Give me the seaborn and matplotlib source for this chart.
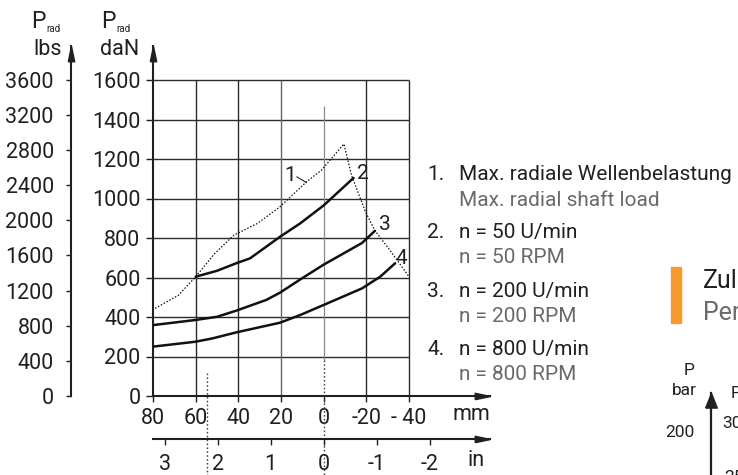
import numpy as np
import pandas as pd
import matplotlib
matplotlib.use("Agg")
import matplotlib.pyplot as plt
import matplotlib.transforms as mtransforms
from matplotlib.patches import Rectangle
import seaborn as sns

# ---------------- data ----------------
mm_ticks = [80, 60, 40, 20, 0, -20, -40]
mm_labels = ["80", "60", "40", "20", "0", "-20", "- 40"]
in_ticks = [3, 2, 1, 0, -1, -2]
in_labels = ["3", "2", "1", "0", "-1", "-2"]
dan_ticks = [0, 200, 400, 600, 800, 1000, 1200, 1400, 1600]
lbs_ticks = [0, 400, 800, 1200, 1600, 2000, 2400, 2800, 3200, 3600]

# 1. max radial shaft load (dotted)
x_max_load = [79, 68, 60, 51, 42, 31, 20.5, 8, 1, -9.5, -13, -19.5, -24, -31, -40]
y_max_load = [444, 511, 604, 722, 815, 874, 958, 1085, 1144, 1276, 1119, 935, 838, 739, 604]
# 2. n = 50 rpm
x_n50 = [60, 50, 41, 34.5, 20.5, 11, 0, -14]
y_n50 = [604, 634, 672, 697, 806, 874, 965, 1104]
# 3. n = 200 rpm
x_n200 = [80, 60, 50, 41, 27, 20.5, 11, 0, -18, -24]
y_n200 = [359, 385, 401, 432, 486, 523, 590, 665, 775, 836]
# 4. n = 800 rpm
x_n800 = [80, 60, 52, 41, 20.5, 11, 0, -18, -26.5, -33.5]
y_n800 = [250, 275, 292, 322, 371, 410, 461, 545, 604, 672]

legend_de = ["Max. radiale Wellenbelastung", "n = 50 U/min", "n = 200 U/min", "n = 800 U/min"]
legend_en = ["Max. radial shaft load", "n = 50 RPM", "n = 200 RPM", "n = 800 RPM"]

# ---------------- style ----------------
sns.set_theme(style="white")
plt.rcParams["font.family"] = ["Roboto", "DejaVu Sans"]
DARK = "#231f20"
GREY = "#6a6a6a"
plt.rcParams["text.color"] = DARK
plt.rcParams["xtick.color"] = DARK
plt.rcParams["ytick.color"] = DARK

W, H = 738, 475
fig = plt.figure(figsize=(W / 100, H / 100), dpi=100)
fig.patch.set_facecolor("white")


def fx(px):
    return px / W


def fy(py):
    return 1 - py / H


L, R, B, T = 153, 490, 396, 46
PX_MM = 256 / 120
PX_DAN = 316 / 1600
ax = fig.add_axes([fx(L), fy(B), (R - L) / W, (B - T) / H])
ax.set_facecolor("none")
ax.set_xlim(80, 80 - (R - L) / PX_MM)
ax.set_ylim(0, (B - T) / PX_DAN)

TS = 15.5  # tick font size

# grid
ax.hlines(dan_ticks[1:], mm_ticks[0], mm_ticks[-1], color="#2b2b2b", lw=1.0, zorder=1)
for v in mm_ticks[1:]:
    if v == 0:
        continue
    ax.vlines(v, dan_ticks[0], dan_ticks[-1], color="#666666" if v == 20 else "#2b2b2b",
              lw=1.0, zorder=1)
# centre line
ax.vlines(0, 182, 1470, color="#8a8a8a", lw=0.9, zorder=1)
ax.plot([0, 0], [182, -400], color="#444", lw=1.0, ls=(0, (1.2, 1.6)), clip_on=False, zorder=1)
ax.plot([54.8, 54.8], [116, -400], color="#444", lw=1.0, ls=(0, (1.2, 1.6)), clip_on=False, zorder=1)

# curves
sns.lineplot(x=x_max_load, y=y_max_load, ax=ax, color="#111", lw=0.9,
             linestyle=(0, (1.2, 1.4)), sort=False, estimator=None, zorder=3)
for xs, ys in [(x_n50, y_n50), (x_n200, y_n200), (x_n800, y_n800)]:
    sns.lineplot(x=xs, y=ys, ax=ax, color="#111", lw=1.8, sort=False, estimator=None, zorder=3)

# curve labels
lab_kw = dict(fontsize=15, ha="center", va="center", color=DARK)
ax.text(15.8, 1114, "1", **lab_kw)
ax.plot([12.6, 8.0], [1110, 1080], color=DARK, lw=0.8)
ax.text(-18.3, 1128, "2", **lab_kw)
ax.text(-28.8, 866, "3", **lab_kw)
ax.text(-36.3, 697, "4", **lab_kw)

# main axes spines & ticks
for s in ["top", "right"]:
    ax.spines[s].set_visible(False)
for s in ["left", "bottom"]:
    ax.spines[s].set_color(DARK)
    ax.spines[s].set_linewidth(1.5)
ax.set_xticks(mm_ticks, mm_labels)
ax.set_yticks(dan_ticks, [str(v) for v in dan_ticks])
ax.tick_params(axis="x", direction="out", length=4.5, width=1.0, pad=4, labelsize=TS)
ax.tick_params(axis="y", direction="out", length=5, width=1.0, pad=4, labelsize=TS)
ax.set_xlabel("")
ax.set_ylabel("")

arrow_r = [(-2, -0.42), (0, 0), (-2, 0.42), (-2, -0.42)]
arrow_u = [(-0.42, -2), (0, 0), (0.42, -2), (-0.42, -2)]
ax.plot(1, 0, marker=arrow_r, ms=22, color=DARK, transform=ax.transAxes, clip_on=False)
ax.plot(0, 1, marker=arrow_u, ms=22, color=DARK, transform=ax.transAxes, clip_on=False)

# lbs axis
LB_OFF = L - 70.5
ax_lb = ax.twinx()
ax_lb.set_ylim(np.array(ax.get_ylim()) * 2.248)
for s in ["top", "right", "bottom"]:
    ax_lb.spines[s].set_visible(False)
ax_lb.spines["left"].set_visible(True)
ax_lb.spines["left"].set_position(("outward", LB_OFF * 0.72))
ax_lb.spines["left"].set_color(DARK)
ax_lb.spines["left"].set_linewidth(1.5)
ax_lb.yaxis.set_ticks_position("left")
ax_lb.yaxis.set_label_position("left")
ax_lb.set_yticks(lbs_ticks, [str(v) for v in lbs_ticks])
ax_lb.tick_params(axis="y", direction="out", length=3.5, width=1.0, pad=8.5, labelsize=TS)
ax_lb.grid(False)
tr_lb = mtransforms.offset_copy(ax.transAxes, fig=fig, x=-LB_OFF, y=0, units="dots")
ax.plot(0, 1, marker=arrow_u, ms=22, color=DARK, transform=tr_lb, clip_on=False)

# inch axis (as drawn in the reference: 53 px per inch, 0 aligned with 0 mm)
IN_OFF = 43
IN_PX = 53.0
zero_px = L + 80 * PX_MM
ax_in = ax.twiny()
ax_in.set_xlim((zero_px - L) / IN_PX, -(R - zero_px) / IN_PX)
for s in ["top", "right", "left"]:
    ax_in.spines[s].set_visible(False)
ax_in.spines["bottom"].set_visible(True)
ax_in.spines["bottom"].set_position(("outward", IN_OFF * 0.72))
ax_in.spines["bottom"].set_color(DARK)
ax_in.spines["bottom"].set_linewidth(1.5)
ax_in.xaxis.set_ticks_position("bottom")
ax_in.xaxis.set_label_position("bottom")
ax_in.set_xticks(in_ticks, in_labels)
ax_in.tick_params(axis="x", direction="out", length=4.5, width=1.0, pad=6, labelsize=TS)
ax_in.grid(False)
tr_in = mtransforms.offset_copy(ax.transAxes, fig=fig, x=0, y=-IN_OFF, units="dots")
ax.plot(1, 0, marker=arrow_r, ms=22, color=DARK, transform=tr_in, clip_on=False)

# axis unit labels
fig.text(fx(471), fy(415), "mm", fontsize=TS, ha="center", va="center")
fig.text(fx(476), fy(460), "in", fontsize=TS, ha="center", va="center")
fig.text(fx(31), fy(27.5), "P", fontsize=16.5, ha="left", va="baseline")
fig.text(fx(46), fy(32), "rad", fontsize=7, ha="left", va="baseline")
fig.text(fx(62), fy(55), "lbs", fontsize=TS, ha="right", va="baseline")
fig.text(fx(101), fy(27.5), "P", fontsize=16.5, ha="left", va="baseline")
fig.text(fx(116), fy(32), "rad", fontsize=7, ha="left", va="baseline")
fig.text(fx(100), fy(55), "daN", fontsize=TS, ha="left", va="baseline")

# legend block
base_de = [180.5, 238, 297, 355]
for i in range(4):
    fig.text(fx(427), fy(base_de[i]), f"{i + 1}.", fontsize=15, ha="left", va="baseline", color=DARK)
    fig.text(fx(459), fy(base_de[i]), legend_de[i], fontsize=15, ha="left", va="baseline", color=DARK)
    fig.text(fx(459), fy(base_de[i] + 25), legend_en[i], fontsize=15, ha="left", va="baseline",
             color=GREY)

# cropped neighbouring section (right edge)
fig.patches.append(Rectangle((fx(671), fy(323)), 10 / W, 56 / H, transform=fig.transFigure,
                             color="#F49B2C", zorder=2))
fig.text(fx(703), fy(288), "Zul", fontsize=18, ha="left", va="baseline", color=DARK)
fig.text(fx(703), fy(320), "Per", fontsize=18, ha="left", va="baseline", color=GREY)

ax_r = fig.add_axes([fx(711), 0, 0.05, (H - 393) / H])
ax_r.set_facecolor("none")
ax_r.set_ylim(200 - (475 - 431) * 2, 200 + (431 - 393) * 2)
for s in ["top", "right", "bottom"]:
    ax_r.spines[s].set_visible(False)
ax_r.spines["left"].set_color(DARK)
ax_r.spines["left"].set_linewidth(1.6)
ax_r.set_xticks([])
ax_r.set_yticks([200], ["200"])
ax_r.tick_params(axis="y", direction="out", length=4, width=1.0, pad=8, labelsize=12.5)
ax_r.plot(0, 1, marker=[(-0.6, -1.5), (0, 0), (0.6, -1.5), (-0.6, -1.5)], ms=21, color=DARK,
          transform=ax_r.transAxes, clip_on=False)
fig.text(fx(689), fy(375), "P", fontsize=12.5, ha="center", va="baseline")
fig.text(fx(697), fy(395), "bar", fontsize=12.5, ha="right", va="baseline")
fig.text(fx(731), fy(398), "P", fontsize=12.5, ha="left", va="baseline")
fig.text(fx(722), fy(428), "30", fontsize=12.5, ha="left", va="baseline")
fig.text(fx(724), fy(482), "25", fontsize=12.5, ha="left", va="baseline")

fig.savefig("out.png", dpi=100)
